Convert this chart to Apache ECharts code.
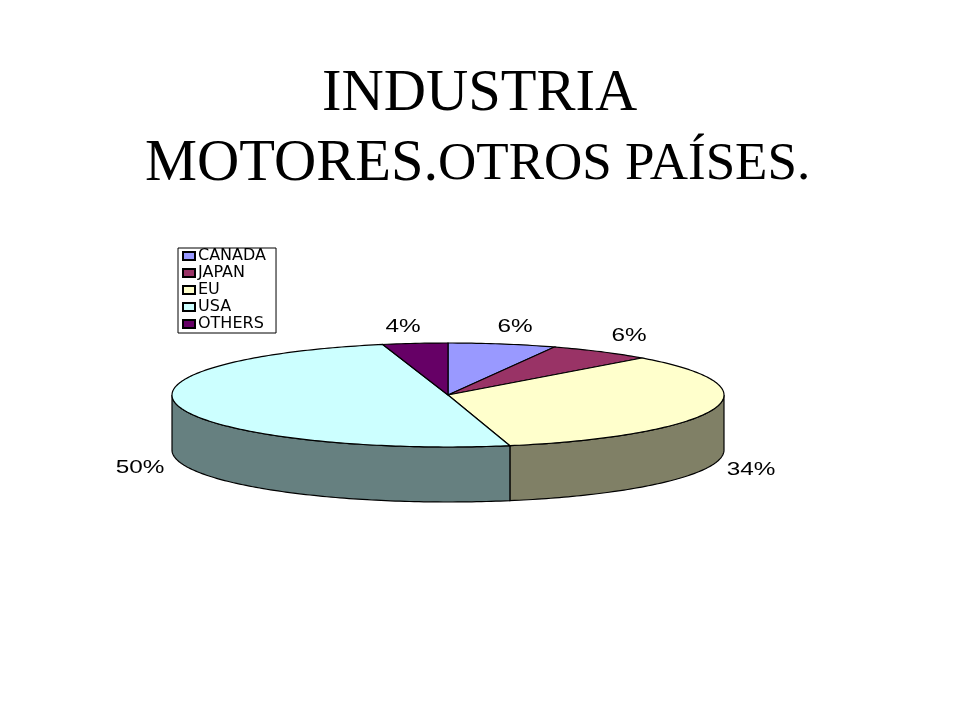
<!DOCTYPE html>
<html><head><meta charset="utf-8">
<style>html,body{margin:0;padding:0;background:#fff}#c{width:960px;height:720px}</style>
<script src="https://cdn.jsdelivr.net/npm/echarts@6/dist/echarts.min.js"></script>
</head><body><div id="c"></div>
<script>
const titleLine1 = 'INDUSTRIA';
const titleLine2Big = 'MOTORES.';
const titleLine2Small = 'OTROS PAÍSES.';
const categories = ['CANADA','JAPAN','EU','USA','OTHERS'];
const values = [6.3,6.1,34,49.8,3.8];
const topColors = ['#9999ff','#993366','#ffffcc','#ccffff','#660066'];
const sideColors = ['#666699','#662244','#808066','#668080','#440044'];

const total = values.reduce((a,b)=>a+b,0);
const CX=448, CY=395, RX=276, RY=52, DEPTH=55;
const pt=(deg,dy)=>{const r=deg*Math.PI/180;return [CX+RX*Math.sin(r),CY-RY*Math.cos(r)+(dy||0)];};
const arc=(a,b,dy)=>{const out=[];const n=Math.max(2,Math.ceil(Math.abs(b-a)));for(let i=0;i<=n;i++)out.push(pt(a+(b-a)*i/n,dy));return out;};

const labelPos=[[515,327],[629,336],[751,470],[140,468],[403,327]];

let cum=0;
const series=categories.map((name,i)=>{
  const start=cum/total*360; cum+=values[i]; const end=cum/total*360;
  return {
    name,type:'custom',coordinateSystem:'none',
    itemStyle:{color:topColors[i],borderColor:'#000',borderWidth:1},
    data:[values[i]],
    renderItem(params,api){
      const kids=[];
      const s=Math.max(start,90), e=Math.min(end,270);
      if(e>s){
        const front=arc(s,e,0), back=arc(e,s,DEPTH);
        kids.push({type:'polygon',shape:{points:front.concat(back)},
          style:{fill:sideColors[i],stroke:'#000',lineWidth:1.2}});
      }
      kids.push({type:'polygon',shape:{points:[[CX,CY]].concat(arc(start,end,0))},
        style:{fill:topColors[i],stroke:'#000',lineWidth:1.2}});
      kids.push({type:'text',x:labelPos[i][0],y:labelPos[i][1],scaleX:1.28,scaleY:1,
        style:{text:Math.round(api.value(0)/total*100)+'%',fill:'#000',
          font:'19px "Liberation Sans"',textAlign:'center',textVerticalAlign:'middle'}});
      return {type:'group',children:kids};
    }
  };
});

const big={fontFamily:'"Liberation Serif"',fontSize:58.5,fontWeight:'normal',lineHeight:70,color:'#000'};
const small={fontFamily:'"Liberation Serif"',fontSize:53,fontWeight:'normal',lineHeight:70,color:'#000'};

const chart=echarts.init(document.getElementById('c'),null,{renderer:'canvas'});
chart.setOption({
  animation:false,
  backgroundColor:'#fff',
  title:[
    {text:'{a|'+titleLine1+'}',left:322,top:60,padding:0,textStyle:{fontWeight:'normal',rich:{a:big}}},
    {text:'{a|'+titleLine2Big+'}{b|'+titleLine2Small+'}',left:145,top:130,padding:0,textStyle:{fontWeight:'normal',rich:{a:big,b:small}}}
  ],
  legend:{
    orient:'vertical',left:178,top:248,data:categories,
    icon:'rect',itemWidth:12,itemHeight:8,itemGap:1,
    padding:[0,10,1,4],borderColor:'#000',borderWidth:1,backgroundColor:'#fff',
    selectedMode:false,
    textStyle:{fontFamily:'"DejaVu Sans"',fontSize:16,color:'#000',padding:[0,0,0,-2],lineHeight:14}
  },
  series
});
</script></body></html>
